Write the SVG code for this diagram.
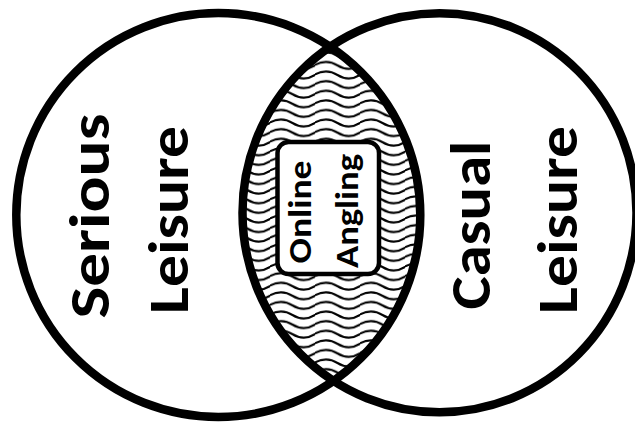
<svg xmlns="http://www.w3.org/2000/svg" width="635" height="423" viewBox="0 0 635 423">
  <style>
    .ring { fill: none; stroke: #000; stroke-width: 8.5; }
    .big { font-family: Carlito, Lato, "Open Sans", sans-serif; font-weight: bold; font-size: 57px; fill: #000; }
    .small { font-family: Carlito, Lato, "Open Sans", sans-serif; font-weight: bold; font-size: 33px; fill: #000; }
    .box { fill: #fff; stroke: #000; stroke-width: 4.5; }
  </style>
  <defs>
    <pattern id="wave" patternUnits="userSpaceOnUse" x="0" y="3" width="45" height="9.6">
      <path d="M-1 4.8 Q11.25 -2.2 22.5 4.8 T45 4.8 T67.5 4.8" fill="none" stroke="#000" stroke-width="2"/>
    </pattern>
    <clipPath id="clipLeft">
      <circle cx="218.3" cy="215" r="202"/>
    </clipPath>
    <clipPath id="clipRight">
      <ellipse cx="439.5" cy="212.7" rx="197" ry="199.5"/>
    </clipPath>
  </defs>
  <rect x="0" y="0" width="635" height="423" fill="#fff"/>

  <g id="intersection">
    <g clip-path="url(#clipLeft)">
      <rect x="200" y="0" width="260" height="423" fill="url(#wave)" clip-path="url(#clipRight)"/>
    </g>
    <rect class="box" x="277.5" y="142" width="101.5" height="132" rx="11" ry="11"/>
    <text class="small" transform="translate(311,263.5) rotate(-90)" textLength="103" lengthAdjust="spacingAndGlyphs">Online</text>
    <text class="small" transform="translate(358,268) rotate(-90)" textLength="114" lengthAdjust="spacingAndGlyphs">Angling</text>
  </g>

  <g id="serious-leisure">
    <circle class="ring" cx="218.3" cy="215" r="202"/>
    <text class="big" transform="translate(109,318.5) rotate(-90)" textLength="205" lengthAdjust="spacingAndGlyphs">Serious</text>
    <text class="big" transform="translate(188,314) rotate(-90)" textLength="188" lengthAdjust="spacingAndGlyphs">Leisure</text>
  </g>

  <g id="casual-leisure">
    <ellipse class="ring" cx="439.5" cy="212.7" rx="197" ry="199.5"/>
    <text class="big" transform="translate(490,309.5) rotate(-90)" textLength="169" lengthAdjust="spacingAndGlyphs">Casual</text>
    <text class="big" transform="translate(577,314) rotate(-90)" textLength="188" lengthAdjust="spacingAndGlyphs">Leisure</text>
  </g>

  <g id="connectors"/>
</svg>
